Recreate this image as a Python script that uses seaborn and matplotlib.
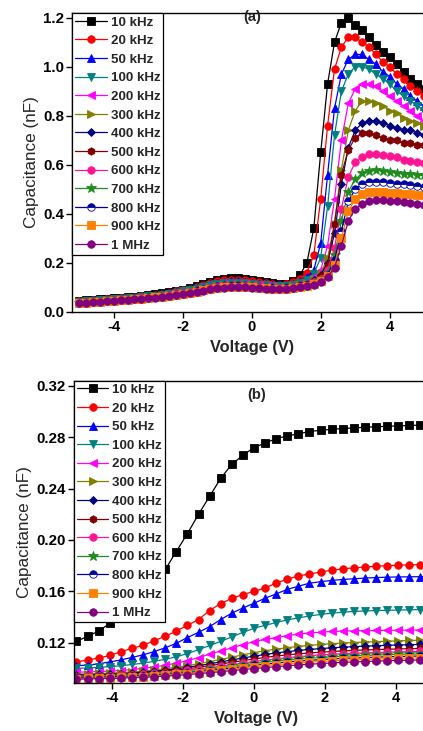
import numpy as np
import pandas as pd
import matplotlib
matplotlib.use("Agg")
import matplotlib.pyplot as plt
import seaborn as sns

# ---------------- data ----------------
freqs = ["10 kHz", "20 kHz", "50 kHz", "100 kHz", "200 kHz", "300 kHz", "400 kHz",
         "500 kHz", "600 kHz", "700 kHz", "800 kHz", "900 kHz", "1 MHz"]
colors = ["#000000", "#FF0000", "#0000FF", "#008080", "#FF00FF", "#808000", "#000080",
          "#800000", "#FF1493", "#1E8C1E", "#0000A0", "#FF8000", "#800080"]
markers = ["s", "o", "^", "v", "<", ">", "D", "h", "o", "*", "o", "s", "o"]

# panel (a): voltage sweep -5 .. 5 V, 0.2 V step
volt_a = np.round(np.arange(-5.0, 5.0001, 0.2), 2)
cap_a_10k = [0.045,0.047,0.049,0.051,0.053,0.055,0.057,0.059,0.062,0.065,0.068,0.072,0.076,0.080,0.085,0.090,0.097,0.105,0.113,0.122,0.130,0.134,0.136,0.136,0.134,0.130,0.125,0.120,0.116,0.114,0.115,
             0.125,0.15,0.20,0.34,0.65,0.93,1.10,1.18,1.20,1.17,1.15,1.12,1.09,1.06,1.04,1.01,0.98,0.95,0.93,0.91]
cap_a_20k = [0.043,0.045,0.047,0.049,0.051,0.053,0.055,0.057,0.060,0.063,0.066,0.070,0.074,0.078,0.083,0.088,0.094,0.101,0.109,0.117,0.124,0.128,0.130,0.130,0.128,0.124,0.120,0.116,0.113,0.111,0.112,
             0.12,0.135,0.16,0.23,0.46,0.76,0.99,1.08,1.12,1.12,1.10,1.08,1.05,1.02,1.00,0.97,0.95,0.92,0.90,0.88]
cap_a_50k = [0.041,0.043,0.045,0.047,0.049,0.051,0.053,0.055,0.058,0.061,0.064,0.067,0.071,0.075,0.080,0.085,0.091,0.098,0.105,0.112,0.118,0.122,0.124,0.124,0.122,0.119,0.115,0.112,0.109,0.107,0.108,
             0.113,0.125,0.14,0.17,0.28,0.56,0.83,0.97,1.03,1.05,1.05,1.03,1.01,0.98,0.96,0.93,0.91,0.88,0.86,0.84]
cap_a_100k = [0.040,0.042,0.044,0.046,0.048,0.050,0.052,0.054,0.057,0.060,0.063,0.066,0.070,0.074,0.078,0.083,0.088,0.094,0.101,0.107,0.113,0.117,0.119,0.119,0.117,0.114,0.111,0.108,0.106,0.104,0.105,
              0.108,0.118,0.13,0.155,0.22,0.43,0.72,0.90,0.97,1.00,1.00,0.99,0.97,0.95,0.93,0.90,0.88,0.86,0.84,0.82]
cap_a_200k = [0.039,0.041,0.043,0.045,0.047,0.049,0.051,0.053,0.056,0.058,0.061,0.064,0.068,0.072,0.076,0.080,0.085,0.091,0.097,0.103,0.108,0.112,0.114,0.114,0.113,0.110,0.107,0.105,0.103,0.101,0.102,
              0.105,0.112,0.122,0.14,0.17,0.27,0.46,0.70,0.85,0.91,0.93,0.93,0.92,0.90,0.88,0.86,0.84,0.82,0.80,0.78]
cap_a_300k = [0.038,0.040,0.042,0.044,0.046,0.048,0.050,0.052,0.055,0.057,0.060,0.063,0.066,0.070,0.074,0.078,0.083,0.088,0.094,0.100,0.105,0.109,0.111,0.111,0.110,0.107,0.104,0.102,0.100,0.099,0.100,
              0.103,0.110,0.118,0.132,0.155,0.22,0.36,0.58,0.74,0.82,0.86,0.86,0.85,0.84,0.82,0.81,0.79,0.78,0.77,0.76]
cap_a_400k = [0.037,0.039,0.041,0.043,0.045,0.047,0.049,0.051,0.054,0.056,0.059,0.062,0.065,0.069,0.073,0.077,0.082,0.087,0.092,0.098,0.103,0.107,0.109,0.109,0.108,0.105,0.103,0.101,0.099,0.098,0.099,
              0.102,0.108,0.115,0.128,0.15,0.20,0.32,0.52,0.67,0.74,0.77,0.78,0.78,0.77,0.76,0.75,0.74,0.74,0.73,0.72]
cap_a_500k = [0.037,0.039,0.041,0.043,0.045,0.047,0.049,0.051,0.053,0.055,0.058,0.061,0.064,0.068,0.072,0.076,0.081,0.086,0.091,0.096,0.101,0.105,0.107,0.107,0.106,0.104,0.102,0.100,0.098,0.097,0.098,
              0.101,0.107,0.113,0.125,0.145,0.19,0.36,0.56,0.66,0.71,0.73,0.73,0.72,0.71,0.70,0.70,0.69,0.69,0.68,0.68]
cap_a_600k = [0.036,0.038,0.040,0.042,0.044,0.046,0.048,0.050,0.052,0.054,0.057,0.060,0.063,0.067,0.071,0.075,0.080,0.085,0.090,0.095,0.099,0.103,0.105,0.105,0.104,0.102,0.100,0.098,0.097,0.096,0.097,
              0.100,0.105,0.111,0.12,0.135,0.17,0.26,0.42,0.55,0.61,0.63,0.645,0.645,0.64,0.635,0.63,0.62,0.615,0.61,0.605]
cap_a_700k = [0.036,0.038,0.040,0.042,0.044,0.046,0.048,0.050,0.052,0.054,0.057,0.060,0.063,0.066,0.070,0.074,0.079,0.084,0.089,0.094,0.098,0.102,0.104,0.104,0.103,0.101,0.099,0.098,0.096,0.095,0.096,
              0.099,0.104,0.109,0.117,0.13,0.16,0.23,0.37,0.49,0.54,0.565,0.575,0.578,0.575,0.57,0.567,0.564,0.562,0.56,0.558]
cap_a_800k = [0.035,0.037,0.039,0.041,0.043,0.045,0.047,0.049,0.051,0.053,0.056,0.059,0.062,0.065,0.069,0.073,0.078,0.083,0.088,0.093,0.097,0.101,0.103,0.103,0.102,0.100,0.098,0.097,0.095,0.094,0.095,
              0.098,0.103,0.108,0.115,0.127,0.15,0.21,0.33,0.45,0.50,0.52,0.53,0.53,0.528,0.525,0.522,0.52,0.516,0.513,0.51]
cap_a_900k = [0.035,0.037,0.039,0.041,0.043,0.045,0.047,0.049,0.051,0.053,0.055,0.058,0.061,0.064,0.068,0.072,0.077,0.082,0.087,0.092,0.096,0.100,0.102,0.102,0.101,0.099,0.097,0.096,0.094,0.093,0.094,
              0.097,0.102,0.106,0.113,0.124,0.145,0.19,0.30,0.41,0.46,0.48,0.488,0.49,0.488,0.486,0.484,0.482,0.48,0.478,0.476]
cap_a_1M = [0.034,0.036,0.038,0.040,0.042,0.044,0.046,0.048,0.050,0.052,0.054,0.057,0.060,0.063,0.067,0.071,0.076,0.081,0.086,0.091,0.095,0.098,0.100,0.100,0.099,0.097,0.096,0.094,0.093,0.092,0.093,
            0.096,0.100,0.104,0.110,0.12,0.14,0.18,0.27,0.37,0.42,0.44,0.45,0.455,0.455,0.452,0.45,0.447,0.444,0.44,0.436]

# panel (b): voltage sweep -5 .. 5 V, 33 points
volt_b = np.linspace(-5.0, 5.0, 33)
cap_b_10k = [0.121,0.125,0.129,0.135,0.142,0.150,0.158,0.167,0.177,0.191,0.205,0.220,0.234,0.248,0.259,0.266,0.272,
             0.2755,0.279,0.281,0.2827,0.2845,0.2855,0.2862,0.2868,0.2873,0.2878,0.2882,0.2886,0.2889,0.2892,0.2895,0.2897]
cap_b_20k = [0.105,0.1065,0.108,0.110,0.113,0.1155,0.118,0.1215,0.125,0.129,0.1335,0.138,0.145,0.1505,0.1545,0.1575,0.160,
             0.1625,0.1665,0.1694,0.172,0.1735,0.175,0.1765,0.1775,0.1783,0.179,0.1795,0.180,0.1803,0.1806,0.1808,0.181]
cap_b_50k = [0.102,0.1025,0.1035,0.105,0.1065,0.1085,0.1105,0.113,0.116,0.1195,0.124,0.128,0.1325,0.138,0.143,0.147,0.1507,
             0.1546,0.158,0.1615,0.164,0.1663,0.1675,0.1685,0.1692,0.1698,0.1703,0.1707,0.171,0.1712,0.1713,0.1714,0.1715]
cap_b_100k = [0.100,0.1003,0.1007,0.1013,0.102,0.103,0.104,0.1055,0.107,0.109,0.1115,0.1145,0.1178,0.121,0.1245,0.128,0.1312,
              0.1335,0.1357,0.1377,0.1393,0.1408,0.142,0.143,0.1437,0.1443,0.1447,0.145,0.1452,0.1454,0.1456,0.1458,0.146]
cap_b_200k = [0.097,0.0972,0.0975,0.0978,0.0983,0.099,0.100,0.101,0.1025,0.104,0.106,0.1083,0.111,0.1135,0.116,0.1185,0.1208,
              0.1225,0.124,0.1255,0.1266,0.1275,0.1282,0.1287,0.129,0.1292,0.1294,0.1295,0.1296,0.1297,0.1298,0.1299,0.130]
cap_b_300k = [0.0955,0.0957,0.096,0.0963,0.0967,0.0972,0.0979,0.0987,0.0997,0.1008,0.1021,0.1036,0.1052,0.1069,0.1087,0.1105,0.1122,
              0.1137,0.115,0.1161,0.1171,0.1179,0.1186,0.1192,0.1197,0.1201,0.1205,0.1208,0.1211,0.1214,0.1217,0.1219,0.1221]
cap_b_400k = [0.0948,0.095,0.0952,0.0955,0.0959,0.0964,0.097,0.0977,0.0986,0.0996,0.1008,0.1021,0.1035,0.105,0.1065,0.108,0.1095,
              0.1108,0.112,0.113,0.1139,0.1147,0.1154,0.116,0.1165,0.1169,0.1173,0.1176,0.1179,0.1182,0.1184,0.1186,0.1188]
cap_b_500k = [0.0942,0.0944,0.0946,0.0949,0.0952,0.0957,0.0962,0.0969,0.0977,0.0986,0.0996,0.1008,0.1021,0.1034,0.1047,0.106,0.1073,
              0.1085,0.1096,0.1105,0.1113,0.112,0.1126,0.1131,0.1136,0.114,0.1143,0.1146,0.1149,0.1151,0.1153,0.1155,0.1157]
cap_b_600k = [0.0936,0.0938,0.094,0.0942,0.0945,0.0949,0.0954,0.096,0.0967,0.0975,0.0984,0.0994,0.1005,0.1017,0.1029,0.1041,0.1053,
              0.1064,0.1074,0.1083,0.1091,0.1098,0.1104,0.1109,0.1113,0.1117,0.112,0.1123,0.1126,0.1128,0.113,0.1132,0.1134]
cap_b_700k = [0.093,0.0932,0.0934,0.0936,0.0939,0.0943,0.0947,0.0952,0.0959,0.0966,0.0974,0.0983,0.0993,0.1004,0.1015,0.1026,0.1037,
              0.1047,0.1056,0.1064,0.1071,0.1078,0.1084,0.1089,0.1093,0.1097,0.110,0.1103,0.1106,0.1108,0.111,0.1112,0.1114]
cap_b_800k = [0.0925,0.0927,0.0929,0.0931,0.0934,0.0937,0.0941,0.0946,0.0952,0.0959,0.0966,0.0974,0.0983,0.0993,0.1003,0.1013,0.1023,
              0.1032,0.1041,0.1049,0.1056,0.1062,0.1068,0.1073,0.1077,0.1081,0.1084,0.1087,0.109,0.1092,0.1094,0.1096,0.1098]
cap_b_900k = [0.092,0.0922,0.0924,0.0926,0.0929,0.0932,0.0936,0.094,0.0946,0.0952,0.0959,0.0967,0.0975,0.0984,0.0993,0.1002,0.1011,
              0.102,0.1028,0.1035,0.1042,0.1048,0.1053,0.1058,0.1062,0.1066,0.1069,0.1072,0.1075,0.1077,0.1079,0.1081,0.1083]
cap_b_1M = [0.0915,0.0917,0.0919,0.0921,0.0924,0.0927,0.093,0.0934,0.0939,0.0945,0.0951,0.0958,0.0966,0.0974,0.0982,0.099,0.0998,
            0.1006,0.1013,0.102,0.1026,0.1032,0.1037,0.1042,0.1046,0.105,0.1053,0.1056,0.1059,0.1061,0.1063,0.1065,0.1067]

series_a = [cap_a_10k, cap_a_20k, cap_a_50k, cap_a_100k, cap_a_200k, cap_a_300k, cap_a_400k,
            cap_a_500k, cap_a_600k, cap_a_700k, cap_a_800k, cap_a_900k, cap_a_1M]
series_b = [cap_b_10k, cap_b_20k, cap_b_50k, cap_b_100k, cap_b_200k, cap_b_300k, cap_b_400k,
            cap_b_500k, cap_b_600k, cap_b_700k, cap_b_800k, cap_b_900k, cap_b_1M]

yticks_a = [0.0, 0.2, 0.4, 0.6, 0.8, 1.0, 1.2]
yticks_b = [0.12, 0.16, 0.20, 0.24, 0.28, 0.32]
xticks = [-4, -2, 0, 2, 4]

# ---------------- style ----------------
sns.set_style("ticks")
plt.rcParams["font.family"] = ["Liberation Sans", "DejaVu Sans"]
plt.rcParams["axes.linewidth"] = 1.0

W, H = 423, 731
fig = plt.figure(figsize=(W / 100, H / 100), dpi=100)


def px_axes(left, top, right, bottom):
    return fig.add_axes([left / W, 1 - bottom / H, (right - left) / W, (bottom - top) / H])


def draw(ax, volt, series, xlim, ylim, yticks, yfmt, tag, tagy):
    handles = []
    for name, vals, c, m in zip(freqs, series, colors, markers):
        ms = 5.4
        if m == "D":
            ms = 4.4
        elif m == "*":
            ms = 7.0
        kw = dict(color=c, marker=m, markersize=ms,
                  markeredgecolor=c, markeredgewidth=0.6, linewidth=0.9)
        if name == "800 kHz":
            kw.update(fillstyle="top", markerfacecoloralt="white")
        n0 = len(ax.lines)
        sns.lineplot(x=volt, y=vals, ax=ax, legend=False, **kw)
        handles.append(ax.lines[n0])
    ax.set_xlim(*xlim)
    ax.set_ylim(*ylim)
    ax.set_xticks(xticks)
    ax.set_yticks(yticks)
    ax.set_xticklabels([str(t) for t in xticks], fontweight="bold", fontsize=10.5)
    ax.set_yticklabels([yfmt.format(t) for t in yticks], fontweight="bold", fontsize=10.8)
    ax.tick_params(direction="out", length=4, width=1, colors="black", pad=2)
    for s in ax.spines.values():
        s.set_visible(True)
        s.set_color("black")
    ax.set_xlabel("Voltage (V)", fontweight="bold", fontsize=11.8, labelpad=4)
    ax.set_ylabel("Capacitance (nF)", fontsize=12.3, labelpad=3)
    ax.text(0.5, tagy, tag, transform=ax.transAxes, ha="center", va="center",
            fontweight="bold", fontsize=10.5)
    leg = ax.legend(handles, freqs, loc="upper left", bbox_to_anchor=(0, 1), borderaxespad=0,
                    frameon=True, fancybox=False, edgecolor="black", framealpha=1,
                    prop={"weight": "bold", "size": 9.6}, handlelength=2.35,
                    handletextpad=0.3, labelspacing=0.47, borderpad=0.22)
    leg.get_frame().set_linewidth(0.9)
    return ax


ax_a = px_axes(72.3, 13.3, 72.3 + 10.4 * 34.5, 311.7)
draw(ax_a, volt_a, series_a, (-5.2, 5.2), (0.0, 1.218), yticks_a, "{:.1f}", "(a)", 0.986)

ax_b = px_axes(74.0, 380.7, 74.0 + 10.27 * 35.5, 682.7)
draw(ax_b, volt_b, series_b, (-5.07, 5.2), (0.0888, 0.3241), yticks_b, "{:.2f}", "(b)", 0.952)

fig.savefig("out.png", dpi=100)
